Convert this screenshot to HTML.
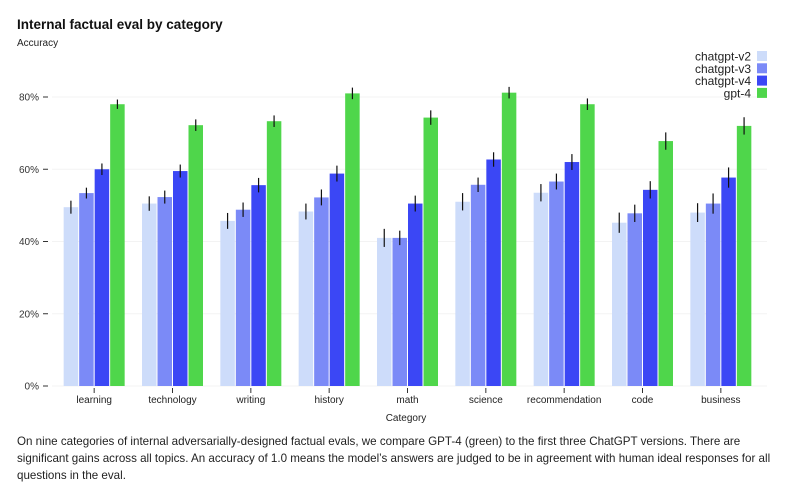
<!DOCTYPE html>
<html><head><meta charset="utf-8"><style>
body{margin:0;width:805px;height:496px;background:#fff;font-family:"Liberation Sans",sans-serif;overflow:hidden;position:relative}
#title{position:absolute;left:17px;top:17px;font-size:13.5px;font-weight:bold;color:#111}
#ylab{position:absolute;left:17px;top:38px;font-size:10px;color:#222}
#cap{position:absolute;left:17px;top:433px;width:775px;font-size:11.6px;line-height:17px;color:#222}
svg{position:absolute;left:0;top:0}
</style></head><body>
<div id="title">Internal factual eval by category</div>
<div id="ylab">Accuracy</div>
<svg id="chart" width="805" height="430"></svg>
<div id="cap">On nine categories of internal adversarially-designed factual evals, we compare GPT-4 (green) to the first three ChatGPT versions. There are significant gains across all topics. An accuracy of 1.0 means the model’s answers are judged to be in agreement with human ideal responses for all questions in the eval.</div>
<script>
const categories=["learning","technology","writing","history","math","science","recommendation","code","business"];
const seriesNames=["chatgpt-v2","chatgpt-v3","chatgpt-v4","gpt-4"];
const v2=[49.5,50.5,45.7,48.3,41,51,53.5,45.2,48];
const v3=[53.4,52.3,48.8,52.2,41,55.7,56.6,47.8,50.5];
const v4=[60,59.5,55.6,58.8,50.5,62.7,62,54.3,57.7];
const gpt4=[78,72.2,73.3,81,74.3,81.2,78,67.8,72];
const errV2=[1.8,2,2.2,2.2,2.5,2.4,2.4,2.8,2.6];
const errV3=[1.5,1.8,2,2.2,2,2,2.2,2.4,2.8];
const errV4=[1.6,1.8,2,2.2,2.2,2,2.2,2.4,2.8];
const errG=[1.3,1.6,1.6,1.6,2,1.6,1.6,2.4,2.4];
const yTicks=[0,20,40,60,80];
const colors=["#cddcfa","#7b8af7","#3b47f5","#4fd64b"];
const series=[v2,v3,v4,gpt4], errs=[errV2,errV3,errV4,errG];
const svg=document.getElementById('chart'),NS="http://www.w3.org/2000/svg";
const x0=55,x1=760,y0=386,pxPer=3.6125;
const band=(x1-x0)/categories.length;
const Y=v=>y0-v*pxPer;
function mk(t,a,p){const e=document.createElementNS(NS,t);for(const k in a)e.setAttribute(k,a[k]);(p||svg).appendChild(e);return e;}
yTicks.forEach(t=>{
 const g=mk('g',{});
 
 
 mk('line',{x1:52,x2:767,y1:Y(t),y2:Y(t),stroke:'#f3f3f3'},g);
 mk('line',{x1:43,x2:48,y1:Y(t),y2:Y(t),stroke:'#333'},g);
 const tx=mk('text',{x:39,y:Y(t)+3.5,'text-anchor':'end','font-size':'10','fill':'#333'},g);tx.textContent=t+'%';
});
const bw=15.5, gw=bw*4;
categories.forEach((c,i)=>{
 const cx=x0+band*(i+0.5);
 series.forEach((s,j)=>{
  const x=cx-gw/2+j*bw;
  const r=mk('rect',{x:x+0.5,y:Y(s[i]),width:bw-1,height:s[i]*pxPer,fill:colors[j]});
  
  
  const e=mk('line',{x1:x+bw/2,x2:x+bw/2,y1:Y(s[i]+errs[j][i]),y2:Y(s[i]-errs[j][i]),stroke:'#111','stroke-width':1.2});
  
  
 });
 mk('line',{x1:cx,x2:cx,y1:388,y2:393,stroke:'#333'});
 const t=mk('text',{x:cx,y:403,'text-anchor':'middle','font-size':'10','fill':'#222'});
 
 
 t.textContent=c;
});
const xt=mk('text',{x:406,y:421,'text-anchor':'middle','font-size':'10','fill':'#222'});


xt.textContent='Category';
seriesNames.forEach((n,j)=>{
 const g=mk('g',{});
 
 
 const y=51+j*12.3;
 mk('rect',{x:757,y:y,width:10,height:10,fill:colors[j]},g);
 const t=mk('text',{x:751,y:y+9.5,'text-anchor':'end','font-size':'12','fill':'#222'},g);t.textContent=n;
});
</script>
</body></html>
